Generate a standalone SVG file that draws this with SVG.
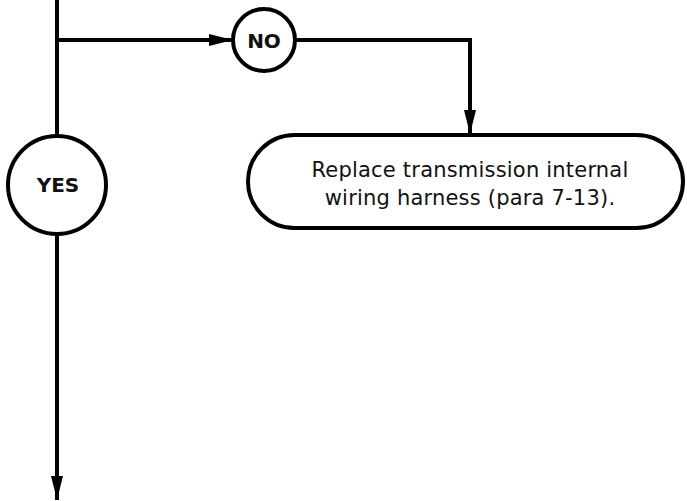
<svg xmlns="http://www.w3.org/2000/svg" width="687" height="501" viewBox="0 0 687 501">
  <style>
    .wire { fill: none; stroke: #000; stroke-width: 4; }
    .node { fill: #fff; stroke: #000; stroke-width: 4; }
    .label { font-family: "DejaVu Sans", "Liberation Sans", sans-serif; font-size: 20px; fill: #111; text-anchor: middle; }
    .body { font-size: 21px; letter-spacing: 0.2px; }
    .bold { font-weight: bold; }
  </style>
  <defs>
    <marker id="arrowhead" viewBox="0 0 24 12" refX="24" refY="6" markerWidth="24" markerHeight="12" markerUnits="userSpaceOnUse" orient="auto">
      <path d="M0,0 L24,6 L0,12 Z" fill="#000"/>
    </marker>
  </defs>

  <g id="connectors">
    <line class="wire" x1="57" y1="0" x2="57" y2="136"/>
    <line class="wire" x1="57" y1="40" x2="233" y2="40" marker-end="url(#arrowhead)"/>
    <polyline class="wire" points="295,40 470,40 470,134" marker-end="url(#arrowhead)"/>
    <line class="wire" x1="57" y1="234" x2="57" y2="500" marker-end="url(#arrowhead)"/>
  </g>

  <g id="no">
    <circle class="node" cx="264" cy="40" r="31"/>
    <text class="label bold" x="264" y="47.5">NO</text>
  </g>

  <g id="yes">
    <circle class="node" cx="57" cy="185" r="49"/>
    <text class="label bold" x="58" y="192">YES</text>
  </g>

  <g id="replace-harness">
    <rect class="node" x="248" y="135" width="435" height="93" rx="46.5" ry="46.5"/>
    <text class="label body" x="470" y="177">Replace transmission internal</text>
    <text class="label body" x="470" y="205">wiring harness (para 7-13).</text>
  </g>
</svg>
